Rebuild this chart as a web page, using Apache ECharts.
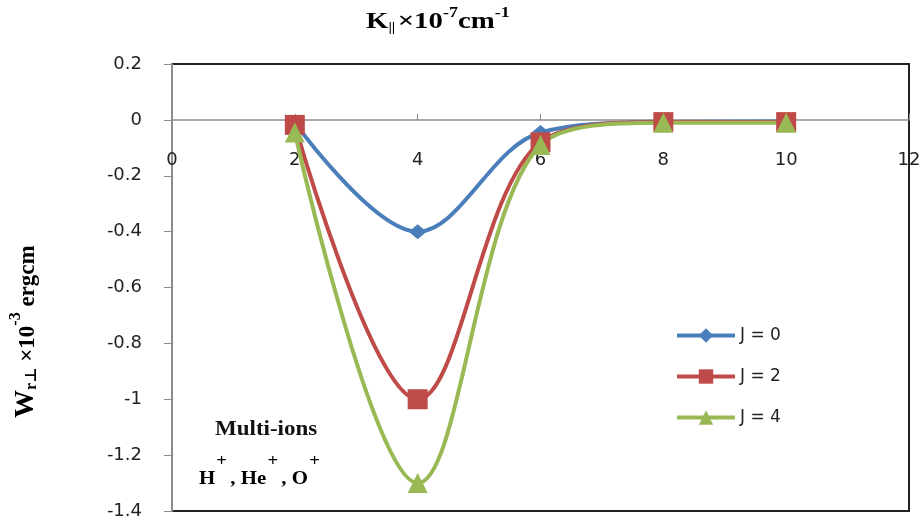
<!DOCTYPE html>
<html>
<head>
<meta charset="utf-8">
<script src="https://cdn.jsdelivr.net/npm/echarts@6/dist/echarts.min.js"></script>
<style>
  html, body { margin: 0; padding: 0; background: #fff; }
  #chartLine { width: 924px; height: 522px; }
</style>
</head>
<body>
<div id="chartLine"></div>
<script>
// data
var kValues = [2, 4, 6, 8, 10];
var seriesNames = ['J = 0', 'J = 2', 'J = 4'];
var j0Data = [-0.01, -0.40, -0.045, -0.008, -0.006];
var j2Data = [-0.018, -1.0, -0.08, -0.008, -0.008];
var j4Data = [-0.045, -1.3, -0.09, -0.01, -0.01];
var xTicks = [0, 2, 4, 6, 8, 10, 12];
var yTicks = [0.2, 0, -0.2, -0.4, -0.6, -0.8, -1, -1.2, -1.4];

function pairs(xs, ys) {
    return xs.map(function (x, i) { return [x, ys[i]]; });
}

var myChart = echarts.init(document.getElementById('chartLine'));

function makeSeries(name, data, color, symbol, size) {
    return {
        name: name,
        type: 'line',
        smooth: 0.35,
        symbol: symbol,
        symbolSize: size,
        showAllSymbol: true,
        lineStyle: { color: color, width: 4 },
        itemStyle: { color: color, borderColor: color, borderWidth: 0 },
        data: pairs(kValues, data)
    };
}

var serif = '"Liberation Serif", "DejaVu Serif", serif';
var sans = '"DejaVu Sans", sans-serif';

var option = {
    backgroundColor: '#fff',
    animation: false,
    grid: {
        left: 172,
        top: 64,
        right: 15,
        bottom: 11,
        containLabel: false,
        outerBoundsMode: 'none',
        show: true,
        borderColor: '#222',
        borderWidth: 2
    },
    legend: {
        orient: 'vertical',
        left: 670,
        top: 322,
        itemGap: 24,
        itemWidth: 58,
        itemHeight: 18,
        lineStyle: { width: 4 },
        textStyle: { color: '#222', fontSize: 17, fontFamily: sans },
        data: seriesNames
    },
    xAxis: {
        type: 'value',
        min: 0,
        max: 12,
        interval: 2,
        offset: 0,
        axisLine: { onZero: false, lineStyle: { color: '#8c8c8c', width: 1.5 } },
        axisTick: { show: true, inside: true, length: 6, lineStyle: { color: '#8c8c8c' } },
        axisLabel: {
            margin: 31,
            color: '#222',
            fontSize: 18,
            fontFamily: sans,
            formatter: function (v) { return xTicks.indexOf(v) >= 0 ? String(v) : ''; }
        },
        splitLine: { show: false }
    },
    yAxis: {
        type: 'value',
        min: -1.4,
        max: 0.2,
        interval: 0.2,
        axisLine: { show: true, onZero: false, lineStyle: { color: '#8c8c8c', width: 2 } },
        axisTick: { show: true, length: 8, lineStyle: { color: '#8c8c8c' } },
        axisLabel: {
            margin: 30,
            color: '#222',
            fontSize: 18,
            fontFamily: sans,
            formatter: function (v) {
                var r = Math.round(v * 10) / 10;
                return yTicks.indexOf(r) >= 0 ? String(r) : '';
            }
        },
        splitLine: { show: false }
    },
    graphic: [
        {
            type: 'text',
            x: 366,
            y: 6,
            scaleX: 1.2,
            style: {
                text: '{b|K}{sub|||}{b|×10}{sup|-7}{b|cm}{sup|-1}',
                rich: {
                    b: { fontFamily: serif, fontWeight: 'bold', fontSize: 24, color: '#111', lineHeight: 28, verticalAlign: 'bottom' },
                    sub: { fontFamily: serif, fontWeight: 'bold', fontSize: 13, color: '#111', verticalAlign: 'bottom', padding: [0, 2, 0, 0] },
                    sup: { fontFamily: serif, fontWeight: 'bold', fontSize: 15, color: '#111', verticalAlign: 'top' }
                }
            }
        },
        {
            type: 'text',
            x: 8,
            y: 418,
            rotation: Math.PI / 2,
            style: {
                text: '{w|W}{sub|r⊥}{b| ×10}{sup|-3}{b| ergcm}',
                rich: {
                    w: { fontFamily: serif, fontWeight: 'bold', fontSize: 28, color: '#111', lineHeight: 32, verticalAlign: 'bottom' },
                    b: { fontFamily: serif, fontWeight: 'bold', fontSize: 23, color: '#111', lineHeight: 32, verticalAlign: 'bottom' },
                    sub: { fontFamily: serif, fontWeight: 'bold', fontSize: 16, color: '#111', verticalAlign: 'bottom' },
                    sup: { fontFamily: serif, fontWeight: 'bold', fontSize: 16, color: '#111', verticalAlign: 'top' }
                }
            }
        },
        {
            type: 'text',
            x: 215,
            y: 420,
            scaleX: 1.15,
            style: {
                text: 'Multi-ions',
                fontFamily: serif,
                fontWeight: 'bold',
                fontSize: 20,
                fill: '#111'
            }
        },
        {
            type: 'text',
            x: 199,
            y: 453,
            scaleX: 1.1,
            style: {
                text: '{b|H}{sup|+}{b|, He}{sup|+}{b|, O}{sup|+}',
                rich: {
                    b: { fontFamily: serif, fontWeight: 'bold', fontSize: 19, color: '#111', lineHeight: 36, verticalAlign: 'bottom' },
                    sup: { fontFamily: serif, fontWeight: 'bold', fontSize: 17, color: '#111', verticalAlign: 'top', padding: [0, 3, 0, 1] }
                }
            }
        }
    ],
    series: [
        makeSeries(seriesNames[0], j0Data, '#4A7EBB', 'diamond', [18, 15]),
        makeSeries(seriesNames[1], j2Data, '#BE4B48', 'rect', 20),
        makeSeries(seriesNames[2], j4Data, '#98B954', 'triangle', 20)
    ]
};

myChart.setOption(option);

// move the whole x axis (line, ticks, labels) up to the y = 0 line
var zeroPx = myChart.convertToPixel({ yAxisIndex: 0 }, 0);
var bottomPx = myChart.convertToPixel({ yAxisIndex: 0 }, yTicks[yTicks.length - 1]);
myChart.setOption({ xAxis: { offset: zeroPx - bottomPx } });
</script>
</body>
</html>
